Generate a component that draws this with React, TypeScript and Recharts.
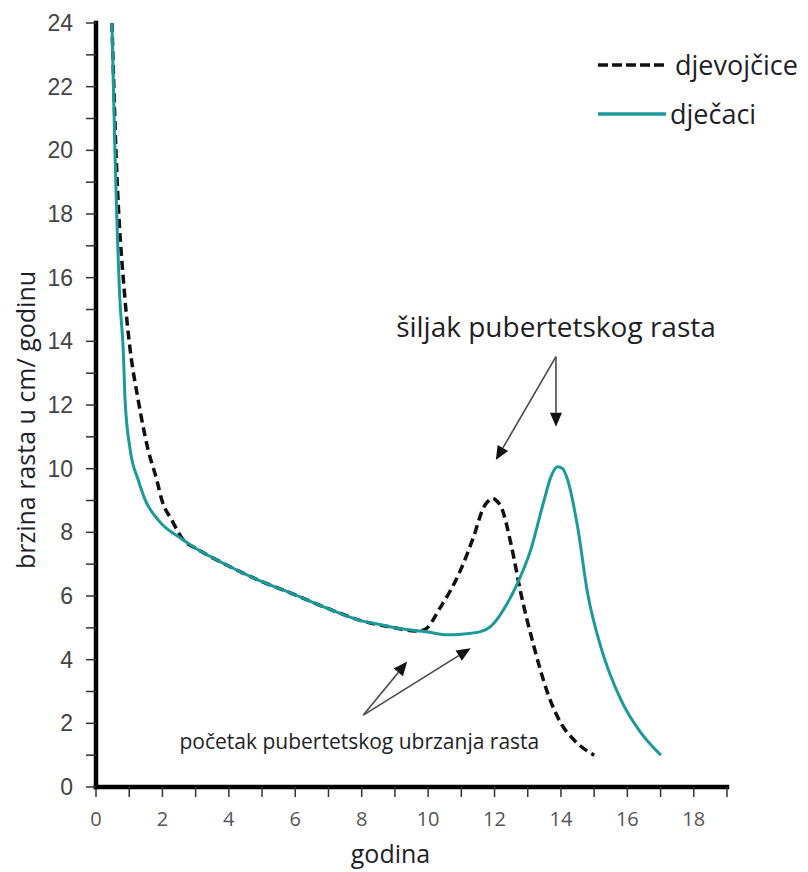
import React from 'react';
import { LineChart, Line, XAxis, YAxis, ReferenceLine, ReferenceDot, Legend } from 'recharts';

// Girls (djevojčice) – dashed curve
const girlsAge = [0.48, 0.6, 0.875, 1.03, 1.27, 1.57, 1.83, 1.98, 2.28, 2.63, 3.0, 3.83, 5.0, 5.85, 7.0, 8.0, 9.0, 9.6, 9.87, 10.38, 10.98, 11.37, 11.68, 11.79, 11.94, 12.09, 12.2, 12.49, 12.79, 13.19, 13.6, 14.0, 14.4, 15.0];
const girlsRate = [24, 20, 15.3, 13.73, 12.16, 10.59, 9.65, 9.02, 8.39, 7.76, 7.5, 7.03, 6.45, 6.1, 5.6, 5.22, 5.0, 4.9, 4.93, 5.66, 6.82, 7.86, 8.8, 8.96, 9.07, 8.96, 8.8, 7.66, 6.1, 4.4, 2.95, 2.0, 1.47, 1.0];

// Boys (dječaci) – solid teal curve
const boysAge = [0.48, 0.57, 0.72, 0.82, 0.875, 1.03, 1.27, 1.48, 1.87, 2.63, 3.0, 3.83, 5.0, 5.85, 7.0, 8.0, 8.57, 9.0, 10.0, 10.58, 11.0, 11.58, 11.88, 12.39, 12.69, 13.09, 13.49, 13.7, 13.9, 14.05, 14.2, 14.5, 14.8, 15.2, 15.81, 16.41, 17.01];
const boysRate = [24, 20, 15.3, 13.73, 12.16, 10.59, 9.65, 9.02, 8.39, 7.76, 7.5, 7.03, 6.45, 6.1, 5.6, 5.22, 5.1, 5.0, 4.87, 4.78, 4.8, 4.88, 5.04, 5.78, 6.4, 7.45, 9.0, 9.75, 10.06, 10.0, 9.65, 8.18, 6.1, 4.4, 2.73, 1.7, 1.0];

const xTicks = [0, 1, 2, 3, 4, 5, 6, 7, 8, 9, 10, 11, 12, 13, 14, 15, 16, 17, 18, 19];
const yTicks = [0, 1, 2, 3, 4, 5, 6, 7, 8, 9, 10, 11, 12, 13, 14, 15, 16, 17, 18, 19, 20, 21, 22, 23, 24];

const seriesNames = ['djevojčice', 'dječaci'];
const xTitle = 'godina';
const yTitle = 'brzina rasta u cm/ godinu';

// annotation arrows (data units): start -> tip
const arrowStartX = [13.85, 13.85, 8.05, 8.05];
const arrowStartY = [13.52, 13.52, 2.26, 2.26];
const arrowTipX = [12.04, 13.85, 9.37, 11.28];
const arrowTipY = [10.27, 11.32, 3.94, 4.36];

// annotation texts (data units of baseline centre)
const noteTexts = ['šiljak pubertetskog rasta', 'početak pubertetskog ubrzanja rasta'];
const noteX = [13.85, 7.93];
const noteY = [14.14, 1.19];
const noteSizes = [28, 21];

const girlsData = girlsAge.map((a, i) => ({ age: a, rate: girlsRate[i] }));
const boysData = boysAge.map((a, i) => ({ age: a, rate: boysRate[i] }));

const TEAL = '#1a9a9b';
const TEXT_FONT = "'Open Sans', Lato, sans-serif";

const ArrowShape = (props: any) => {
  const { x1, y1, x2, y2 } = props;
  if ([x1, y1, x2, y2].some((v) => typeof v !== 'number' || isNaN(v))) return null;
  const dx = x2 - x1;
  const dy = y2 - y1;
  const len = Math.sqrt(dx * dx + dy * dy);
  const ux = dx / len;
  const uy = dy / len;
  const hl = 14;
  const hw = 6;
  const bx = x2 - ux * hl;
  const by = y2 - uy * hl;
  const px = -uy;
  const py = ux;
  const pts = `${x2},${y2} ${bx + px * hw},${by + py * hw} ${bx - px * hw},${by - py * hw}`;
  return (
    <g>
      <line x1={x1} y1={y1} x2={bx} y2={by} stroke="#4a4a4a" strokeWidth={1.6} />
      <polygon points={pts} fill="#111" />
    </g>
  );
};

const makeNote = (text: string, size: number) => (props: any) => {
  const { cx, cy } = props;
  return (
    <text x={cx} y={cy} textAnchor="middle" fontFamily={TEXT_FONT} fontSize={size} fill="#1e1e24">
      {text}
    </text>
  );
};

const LegendContent = () => (
  <div style={{ fontFamily: TEXT_FONT, fontSize: 27, color: '#1e1e28', lineHeight: 1 }}>
    <div style={{ display: 'flex', alignItems: 'center', height: 49 }}>
      <svg width={77} height={10} style={{ display: 'block' }}>
        <line x1={0} y1={5} x2={68} y2={5} stroke="#111" strokeWidth={3.5} strokeDasharray="10 4" />
      </svg>
      <span>{seriesNames[0]}</span>
    </div>
    <div style={{ display: 'flex', alignItems: 'center', height: 49 }}>
      <svg width={72} height={10} style={{ display: 'block' }}>
        <line x1={0} y1={5} x2={68} y2={5} stroke={TEAL} strokeWidth={3.5} />
      </svg>
      <span>{seriesNames[1]}</span>
    </div>
  </div>
);

const YTitle = (props: any) => {
  const vb = props.viewBox || {};
  const cx = (vb.x || 0) + 17;
  const cy = (vb.y || 0) + (vb.height || 0) / 2 + 15;
  return (
    <text x={cx} y={cy} transform={`rotate(-90, ${cx}, ${cy})`} textAnchor="middle" dominantBaseline="central" fontFamily={TEXT_FONT} fontSize={25} fill="#1e1e2a">
      {yTitle}
    </text>
  );
};

const XTitle = (props: any) => {
  const vb = props.viewBox || {};
  const cx = (vb.x || 0) + (vb.width || 0) / 2 - 21;
  const cy = (vb.y || 0) + 76;
  return (
    <text x={cx} y={cy} textAnchor="middle" fontFamily={TEXT_FONT} fontSize={25} fill="#1e1e2a">
      {xTitle}
    </text>
  );
};

export default function App() {
  return (
    <LineChart width={800} height={864} margin={{ top: 15, right: 81, bottom: 0, left: 0 }}>
      <XAxis
        type="number"
        dataKey="age"
        domain={[0, 19]}
        ticks={xTicks}
        interval={0}
        allowDataOverflow
        height={85}
        tickSize={10}
        tickMargin={15}
        tickFormatter={(v: number) => (v % 2 === 0 ? String(v) : '')}
        tick={{ fontFamily: "'Open Sans', sans-serif", fontSize: 20, fill: '#555' }}
        axisLine={{ stroke: '#000', strokeWidth: 4.5, strokeLinecap: 'square' }}
        tickLine={{ stroke: '#333', strokeWidth: 1.5 }}
        label={<XTitle />}
      />
      <YAxis
        type="number"
        domain={[0, 24]}
        ticks={yTicks}
        interval={0}
        allowDataOverflow
        width={88}
        tickSize={10}
        tickMargin={13}
        tickFormatter={(v: number) => (v % 2 === 0 ? String(v) : '')}
        tick={{ fontFamily: "'Liberation Sans', Arial, sans-serif", fontSize: 23, fill: '#444' }}
        axisLine={{ stroke: '#000', strokeWidth: 4.5, strokeLinecap: 'square' }}
        tickLine={{ stroke: '#333', strokeWidth: 1.5 }}
        label={<YTitle />}
      />
      <Legend
        layout="horizontal"
        verticalAlign="middle"
        align="center"
        content={<LegendContent />}
        wrapperStyle={{ top: 32, left: 590, width: 215, height: 100 }}
      />
      <Line
        data={girlsData}
        dataKey="rate"
        name={seriesNames[0]}
        type="monotone"
        stroke="#111"
        strokeWidth={3.5}
        strokeDasharray="9 5"
        dot={false}
        activeDot={false}
        isAnimationActive={false}
      />
      <Line
        data={boysData}
        dataKey="rate"
        name={seriesNames[1]}
        type="monotone"
        stroke={TEAL}
        strokeWidth={3}
        dot={false}
        activeDot={false}
        isAnimationActive={false}
      />
      {arrowStartX.map((sx, i) => (
        <ReferenceLine
          key={`arrow-${i}`}
          segment={[
            { x: sx, y: arrowStartY[i] },
            { x: arrowTipX[i], y: arrowTipY[i] },
          ]}
          ifOverflow="visible"
          shape={ArrowShape}
        />
      ))}
      {noteTexts.map((t, i) => (
        <ReferenceDot
          key={`note-${i}`}
          x={noteX[i]}
          y={noteY[i]}
          r={0}
          ifOverflow="visible"
          shape={makeNote(t, noteSizes[i])}
        />
      ))}
    </LineChart>
  );
}
